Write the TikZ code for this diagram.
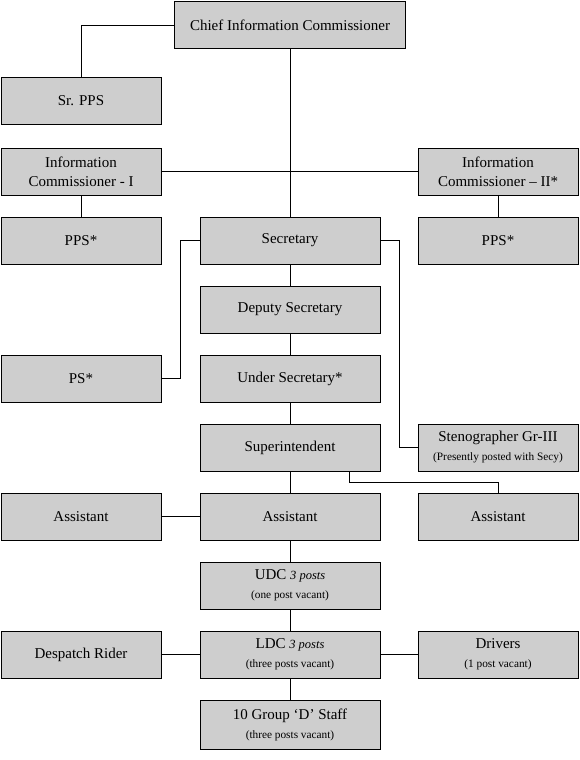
\documentclass[tikz,border=0pt]{standalone}
\usepackage{fontspec}
\setmainfont{Liberation Serif}
\usetikzlibrary{positioning}
\definecolor{boxgray}{RGB}{206,206,206}
\newcommand{\postnote}[1]{{\fontsize{11.3}{13}\selectfont #1}}

\begin{document}
\begin{tikzpicture}[x=1pt, y=-1pt,
    node distance=22pt and 39pt,
    box/.style={rectangle, draw=black, line width=0.8pt, fill=boxgray, align=center,
        inner sep=1pt, outer sep=0pt, minimum width=180pt, minimum height=47pt,
        font=\fontsize{15}{19}\selectfont},
    sidebox/.style={box, minimum width=160pt},
    link/.style={draw=black, line width=0.8pt}]
\useasboundingbox (0,0) rectangle (579,760);
% top of the chart
\node[box, minimum width=231pt] (cic) at (290,25) {Chief Information Commissioner};
\node[box] (sec) at (290,240.5) {Secretary};
\node[sidebox, left=39pt of sec] (ppsl) {PPS*};
\node[sidebox, right=38pt of sec] (ppsr) {PPS*};
\node[sidebox, above=of ppsl] (icone) {Information\\Commissioner - I};
\node[sidebox, above=of ppsr] (ictwo) {Information\\Commissioner – II*};
\node[sidebox, above=24pt of icone] (srpps) {Sr. PPS};
% secretariat column
\node[box, below=of sec] (depsec) {Deputy Secretary};
\node[box, below=of depsec] (undsec) {Under Secretary*};
\node[box, below=of undsec] (supt) {Superintendent};
\node[box, below=of supt] (asst) {Assistant};
\node[box, below=of asst] (udc) {UDC {\fontsize{12.5}{13}\selectfont\itshape 3 posts}\\ \postnote{(one post vacant)}};
\node[box, below=of udc] (ldc) {LDC {\fontsize{12.5}{13}\selectfont\itshape 3 posts}\\ \postnote{(three posts vacant)}};
\node[box, below=of ldc, minimum height=49pt] (grpd) {10 Group `D' Staff\\ \postnote{(three posts vacant)}};
% side boxes
\node[sidebox, left=39pt of undsec] (ps) {PS*};
\node[sidebox, right=38pt of supt] (steno) {Stenographer Gr-III\\ \postnote{(Presently posted with Secy)}};
\node[sidebox, left=39pt of asst] (asstl) {Assistant};
\node[sidebox, right=38pt of asst] (asstr) {Assistant};
\node[sidebox, left=39pt of ldc] (rider) {Despatch Rider};
\node[sidebox, right=38pt of ldc] (drivers) {Drivers\\ \postnote{(1 post vacant)}};
% connectors
\draw[link] (cic.west) -| (srpps.north);
\draw[link] (cic.south) -- (sec.north);
\draw[link] (icone.east) -- (ictwo.west);
\draw[link] (icone.south) -- (ppsl.north);
\draw[link] (ictwo.south) -- (ppsr.north);
\draw[link] (sec.west) -- ++(-20,0) |- (ps.east);
\draw[link] (sec.east) -- ++(19,0) |- (steno.west);
\draw[link] (sec) -- (depsec) (depsec) -- (undsec) (undsec) -- (supt) (supt) -- (asst);
\draw[link] (asst) -- (udc) (udc) -- (ldc) (ldc) -- (grpd);
\draw[link] ([xshift=59pt]supt.south) -- ++(0,11) -| (asstr.north);
\draw[link] (asstl) -- (asst);
\draw[link] (rider) -- (ldc) (ldc) -- (drivers);
\end{tikzpicture}
\end{document}
